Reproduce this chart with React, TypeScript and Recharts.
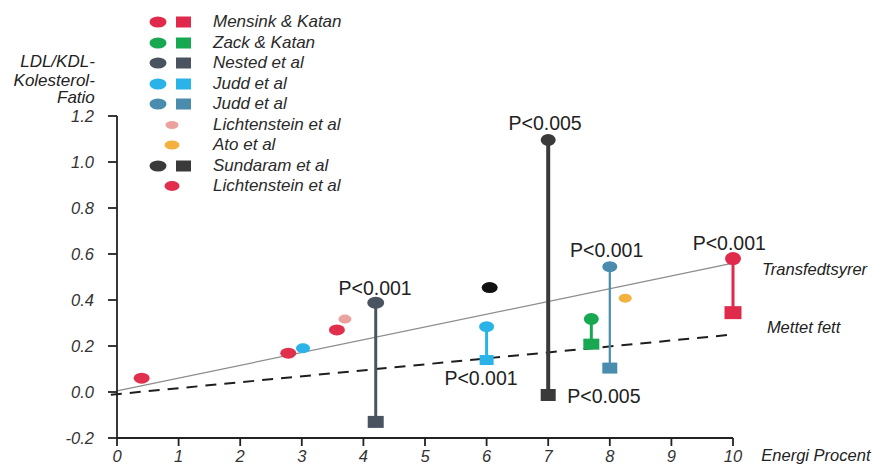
import React from 'react';
import {
  ComposedChart,
  Scatter,
  XAxis,
  YAxis,
  ReferenceLine,
  ReferenceDot,
  Legend,
} from 'recharts';

const FONT = '"Liberation Sans", Arial, Helvetica, sans-serif';

// ---------- data ----------
const xTicks = [0, 1, 2, 3, 4, 5, 6, 7, 8, 9, 10];
const yTicks = [-0.2, 0, 0.2, 0.4, 0.6, 0.8, 1.0, 1.2];

// paired studies: circle = transfedtsyrer, square = mettet fett
const mensinkKatan = [
  { x: 10, y: 0.58, kind: 'trans' },
  { x: 10, y: 0.345, kind: 'sat' },
];
const zackKatan = [
  { x: 7.7, y: 0.317, kind: 'trans' },
  { x: 7.7, y: 0.208, kind: 'sat' },
];
const nestedEtAl = [
  { x: 4.2, y: 0.388, kind: 'trans' },
  { x: 4.2, y: -0.13, kind: 'sat' },
];
const juddA = [
  { x: 6.0, y: 0.284, kind: 'trans' },
  { x: 6.0, y: 0.139, kind: 'sat' },
];
const juddB = [
  { x: 8.0, y: 0.545, kind: 'trans' },
  { x: 8.0, y: 0.104, kind: 'sat' },
];
const sundaram = [
  { x: 7.0, y: 1.096, kind: 'trans' },
  { x: 7.0, y: -0.013, kind: 'sat' },
];

// single points
const juddASingle = [{ x: 3.02, y: 0.19 }];
const lichtensteinPink = [{ x: 3.7, y: 0.317 }];
const atoEtAl = [{ x: 8.25, y: 0.408 }];
const sundaramSingle = [{ x: 6.05, y: 0.454 }];
const lichtensteinRed = [
  { x: 0.4, y: 0.06 },
  { x: 2.78, y: 0.169 },
  { x: 3.57, y: 0.27 },
];

// trend lines
const transLine = [
  { x: 0, y: 0.005 },
  { x: 10, y: 0.56 },
];
const satLine = [
  { x: -0.1, y: -0.012 },
  { x: 10, y: 0.25 },
];

// annotations
const pLabels = [
  { x: 4.19, y: 0.42, text: 'P<0.001', anchor: 'middle' },
  { x: 6.95, y: 1.14, text: 'P<0.005', anchor: 'middle' },
  { x: 7.95, y: 0.587, text: 'P<0.001', anchor: 'middle' },
  { x: 9.94, y: 0.617, text: 'P<0.001', anchor: 'middle' },
  { x: 5.91, y: 0.03, text: 'P<0.001', anchor: 'middle' },
  { x: 7.31, y: -0.048, text: 'P<0.005', anchor: 'start' },
];
const lineLabels = [
  { x: 10.47, y: 0.509, text: 'Transfedtsyrer' },
  { x: 10.55, y: 0.257, text: 'Mettet fett' },
  { x: 10.46, y: -0.3, text: 'Energi Procent' },
];
const yTitleLines = ['LDL/KDL-', 'Kolesterol-', 'Fatio'];
const yTitleX = -0.36;
const yTitleY = [1.415, 1.332, 1.258];

const legendNames = [
  'Mensink & Katan',
  'Zack & Katan',
  'Nested et al',
  'Judd et al',
  'Judd et al',
  'Lichtenstein et al',
  'Ato et al',
  'Sundaram et al',
  'Lichtenstein et al',
];

// ---------- styles ----------
const C = {
  red: '#e02a4b',
  green: '#17a851',
  slate: '#4a5461',
  lightBlue: '#2ab3e8',
  steel: '#4a8cae',
  pink: '#e9a29d',
  orange: '#f3b23f',
  dark: '#3a3a3a',
  black: '#111111',
  lichtRed: '#e0304e',
};

const legendStyles = [
  { circle: C.red, square: C.red, rx: 8.5, ry: 5.5 },
  { circle: C.green, square: C.green, rx: 8.5, ry: 5.5 },
  { circle: C.slate, square: C.slate, rx: 8.5, ry: 5.5 },
  { circle: C.lightBlue, square: C.lightBlue, rx: 8.5, ry: 5.5 },
  { circle: C.steel, square: C.steel, rx: 8.5, ry: 5.5 },
  { circle: C.pink, square: null, rx: 6.5, ry: 4 },
  { circle: C.orange, square: null, rx: 7.5, ry: 4.5 },
  { circle: C.dark, square: C.dark, rx: 8.5, ry: 5.5 },
  { circle: C.lichtRed, square: null, rx: 7.5, ry: 5 },
];

const pairShape =
  (color: string, rx: number, ry: number, w: number, h: number) =>
  (props: any) => {
    const { cx, cy, payload } = props;
    if (cx == null || cy == null) return null;
    if (payload && payload.kind === 'sat') {
      return <rect x={cx - w / 2} y={cy - h / 2} width={w} height={h} fill={color} />;
    }
    return <ellipse cx={cx} cy={cy} rx={rx} ry={ry} fill={color} />;
  };

const dotShape = (color: string, rx: number, ry: number) => (props: any) => {
  const { cx, cy } = props;
  if (cx == null || cy == null) return null;
  return <ellipse cx={cx} cy={cy} rx={rx} ry={ry} fill={color} />;
};

const textShape =
  (text: string, anchor: string, size: number, italic: boolean) => (props: any) =>
    (
      <text
        x={props.cx}
        y={props.cy}
        textAnchor={anchor as any}
        fontSize={size}
        fontStyle={italic ? 'italic' : 'normal'}
        fontFamily={FONT}
        fill="#222"
      >
        {text}
      </text>
    );

const LegendBox = () => (
  <div style={{ fontFamily: FONT, fontStyle: 'italic', fontSize: 17, color: '#2a2a2a' }}>
    {legendNames.map((name, i) => {
      const st = legendStyles[i];
      return (
        <div key={i} style={{ display: 'flex', alignItems: 'center', height: 20.5 }}>
          <svg width={65} height={20} style={{ display: 'block' }}>
            {st.square ? (
              <>
                <ellipse cx={10} cy={10} rx={st.rx} ry={st.ry} fill={st.circle} />
                <rect x={28} y={4.5} width={15} height={11} fill={st.square} />
              </>
            ) : (
              <ellipse cx={24} cy={10} rx={st.rx} ry={st.ry} fill={st.circle} />
            )}
          </svg>
          <span style={{ whiteSpace: 'nowrap', lineHeight: '20px' }}>{name}</span>
        </div>
      );
    })}
  </div>
);

const tickStyle = { fontSize: 16.5, fontStyle: 'italic', fill: '#333', fontFamily: FONT };

export default function App() {
  return (
    <ComposedChart
      width={874}
      height={458}
      margin={{ top: 108, right: 149, bottom: 0, left: 49 }}
    >
      <XAxis
        type="number"
        dataKey="x"
        domain={[0, 10]}
        ticks={xTicks}
        interval={0}
        height={28}
        tickSize={8}
        tickMargin={4}
        axisLine={{ stroke: '#222', strokeWidth: 1.8 }}
        tickLine={{ stroke: '#222', strokeWidth: 1.8 }}
        tick={tickStyle}
      />
      <YAxis
        type="number"
        dataKey="y"
        domain={[-0.2, 1.2]}
        ticks={yTicks}
        interval={0}
        width={60}
        tickSize={9}
        tickMargin={14}
        tickFormatter={(v: number) => v.toFixed(1)}
        axisLine={{ stroke: '#222', strokeWidth: 1.8 }}
        tickLine={{ stroke: '#222', strokeWidth: 1.8 }}
        tick={tickStyle}
      />
      <Legend
        layout="horizontal"
        verticalAlign="middle"
        align="center"
        wrapperStyle={{ left: 140, top: 4, width: 260 }}
        content={() => <LegendBox />}
      />
      <ReferenceLine
        segment={transLine}
        stroke="#8c8c8c"
        strokeWidth={1.3}
        ifOverflow="visible"
      />
      <ReferenceLine
        segment={satLine}
        stroke="#1e1e1e"
        strokeWidth={2}
        strokeDasharray="11 8"
        ifOverflow="visible"
      />

      <Scatter
        data={lichtensteinRed}
        isAnimationActive={false}
        shape={dotShape(C.lichtRed, 8, 5.5)}
      />
      <Scatter data={juddASingle} isAnimationActive={false} shape={dotShape(C.lightBlue, 7, 5)} />
      <Scatter data={lichtensteinPink} isAnimationActive={false} shape={dotShape(C.pink, 6.5, 4.5)} />
      <Scatter data={atoEtAl} isAnimationActive={false} shape={dotShape(C.orange, 6.5, 4.5)} />
      <Scatter data={sundaramSingle} isAnimationActive={false} shape={dotShape(C.black, 8, 5.5)} />

      <Scatter
        data={nestedEtAl}
        isAnimationActive={false}
        line={{ stroke: C.slate, strokeWidth: 3 }}
        lineType="joint"
        shape={pairShape(C.slate, 8.5, 6, 16, 12)}
      />
      <Scatter
        data={juddA}
        isAnimationActive={false}
        line={{ stroke: C.lightBlue, strokeWidth: 3 }}
        lineType="joint"
        shape={pairShape(C.lightBlue, 7.5, 5.5, 14, 10)}
      />
      <Scatter
        data={sundaram}
        isAnimationActive={false}
        line={{ stroke: C.dark, strokeWidth: 4 }}
        lineType="joint"
        shape={pairShape(C.dark, 7.5, 6, 15, 12)}
      />
      <Scatter
        data={zackKatan}
        isAnimationActive={false}
        line={{ stroke: C.green, strokeWidth: 3 }}
        lineType="joint"
        shape={pairShape(C.green, 7.5, 6, 16, 11)}
      />
      <Scatter
        data={juddB}
        isAnimationActive={false}
        line={{ stroke: C.steel, strokeWidth: 2.2 }}
        lineType="joint"
        shape={pairShape(C.steel, 7.5, 5.5, 15, 11)}
      />
      <Scatter
        data={mensinkKatan}
        isAnimationActive={false}
        line={{ stroke: C.red, strokeWidth: 3 }}
        lineType="joint"
        shape={pairShape(C.red, 8, 6.5, 17, 13)}
      />

      {pLabels.map((p, i) => (
        <ReferenceDot
          key={'p' + i}
          x={p.x}
          y={p.y}
          r={0}
          ifOverflow="visible"
          shape={textShape(p.text, p.anchor, 19.5, false)}
        />
      ))}
      {lineLabels.map((p, i) => (
        <ReferenceDot
          key={'l' + i}
          x={p.x}
          y={p.y}
          r={0}
          ifOverflow="visible"
          shape={textShape(p.text, 'start', 16.5, true)}
        />
      ))}
      {yTitleLines.map((t, i) => (
        <ReferenceDot
          key={'t' + i}
          x={yTitleX}
          y={yTitleY[i]}
          r={0}
          ifOverflow="visible"
          shape={textShape(t, 'end', 17, true)}
        />
      ))}
    </ComposedChart>
  );
}
